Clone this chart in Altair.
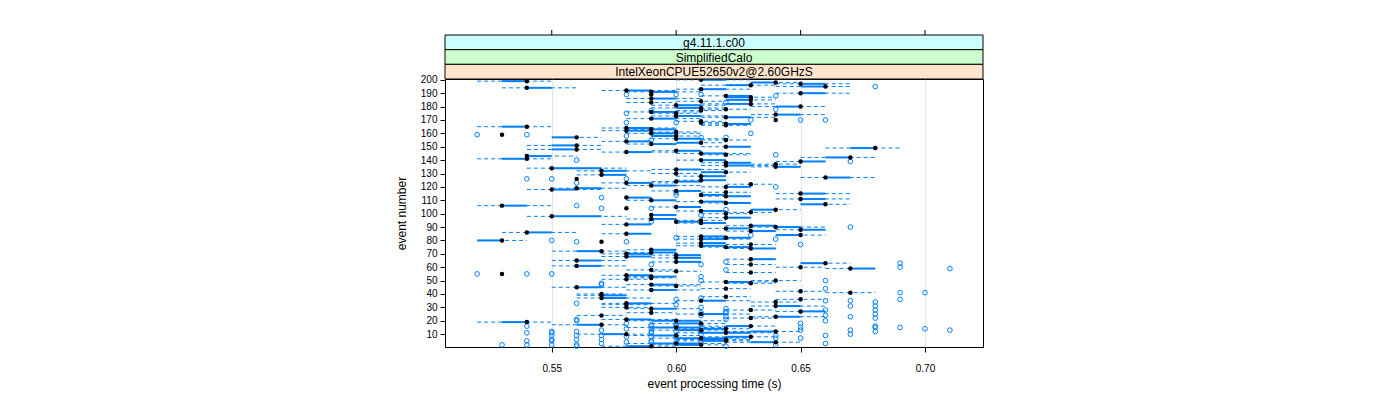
import altair as alt
import pandas as pd

# ---------------- data ----------------
events = list(range(1, 201))

lo = [
    .57, .59, .58, .62, .60, .60, .59, .61, .58, .56,
    .60, .62, .59, .60, .58, .61, .55, .59, .52, .58,
    .57, .62, .63, .56, .60, .58, .64, .62, .58, .57,
    .63, .57, .57, .63, .60, .64, .56, .61, .56, .56,
    .66, .64, .58, .61, .55, .59, .58, .62, .61, .63,
    .57, .58, .58, .57, .53, .62, .59, .58, .66, .64,
    .55, .62, .65, .59, .55, .62, .59, .57, .59, .57,
    .58, .55, .58, .62, .61, .60, .62, .60, .57, .52,
    .60, .61, .60, .64, .57, .53, .62, .64, .61, .63,
    .62, .57, .60, .60, .60, .58, .61, .54, .59, .61,
    .62, .60, .63, .58, .59, .52, .65, .61, .60, .58,
    .64, .58, .61, .61, .64, .61, .59, .54, .55, .61,
    .58, .62, .57, .59, .60, .56, .65, .60, .56, .59,
    .61, .56, .59, .54, .63, .61, .63, .61, .64, .60,
    .52, .65, .54, .61, .60, .57, .59, .54, .66, .61,
    .54, .58, .60, .57, .61, .59, .55, .59, .53, .58,
    .59, .57, .58, .57, .52, .61, .61, .61, .60, .64,
    .58, .61, .59, .63, .59, .58, .60, .61, .59, .63,
    .59, .61, .58, .60, .62, .58, .62, .61, .59, .64,
    .58, .57, .60, .53, .64, .61, .64, .63, .52, .60,
]

q1 = [
    .58, .60, .59, .63, .61, .61, .60, .62, .59, .57,
    .61, .63, .60, .61, .59, .62, .56, .60, .53, .59,
    .58, .63, .64, .57, .61, .59, .65, .63, .59, .58,
    .64, .58, .58, .64, .61, .65, .57, .62, .57, .57,
    .67, .65, .59, .62, .56, .60, .59, .63, .62, .64,
    .58, .59, .59, .58, .53, .63, .60, .59, .67, .65,
    .56, .63, .65, .60, .56, .63, .60, .58, .60, .58,
    .59, .56, .59, .63, .62, .61, .63, .61, .57, .52,
    .61, .62, .61, .64, .58, .54, .63, .65, .62, .64,
    .63, .58, .61, .60, .61, .59, .62, .55, .59, .62,
    .63, .61, .63, .58, .60, .53, .65, .62, .61, .59,
    .65, .58, .62, .61, .65, .62, .60, .55, .56, .62,
    .59, .63, .58, .60, .61, .56, .66, .61, .57, .60,
    .61, .57, .60, .55, .64, .62, .64, .62, .65, .61,
    .53, .66, .54, .62, .61, .58, .60, .55, .67, .62,
    .55, .59, .60, .58, .62, .60, .55, .59, .53, .59,
    .60, .58, .59, .58, .53, .62, .62, .61, .61, .64,
    .59, .62, .60, .64, .60, .59, .61, .62, .60, .64,
    .60, .62, .59, .61, .62, .59, .62, .62, .59, .65,
    .59, .58, .61, .54, .65, .62, .65, .63, .53, .61,
]

med = [
    .59, .61, .60, .64, .62, .62, .61, .63, .60, .58,
    .62, .64, .61, .62, .60, .63, .57, .61, .54, .60,
    .58, .63, .64, .57, .61, .59, .65, .63, .59, .58,
    .64, .58, .58, .64, .61, .65, .57, .62, .57, .57,
    .67, .65, .59, .62, .56, .60, .59, .63, .62, .64,
    .58, .59, .59, .58, .53, .63, .60, .59, .67, .65,
    .56, .63, .66, .60, .56, .63, .60, .58, .60, .58,
    .59, .57, .59, .63, .62, .61, .63, .61, .57, .53,
    .61, .62, .61, .65, .58, .54, .63, .65, .62, .64,
    .63, .58, .61, .60, .61, .59, .62, .55, .59, .62,
    .63, .61, .64, .58, .60, .53, .66, .62, .61, .59,
    .65, .58, .62, .61, .65, .62, .60, .55, .56, .62,
    .59, .63, .58, .60, .61, .56, .66, .61, .57, .60,
    .62, .57, .60, .55, .64, .62, .64, .62, .65, .61,
    .54, .67, .54, .62, .61, .58, .60, .56, .68, .62,
    .56, .59, .61, .58, .62, .60, .56, .60, .53, .59,
    .60, .58, .59, .58, .54, .62, .62, .61, .61, .64,
    .59, .62, .60, .64, .60, .59, .61, .62, .61, .65,
    .60, .63, .59, .61, .63, .59, .63, .62, .59, .65,
    .59, .58, .61, .54, .66, .63, .65, .64, .54, .61,
]

q3 = [
    .59, .61, .61, .64, .62, .62, .62, .63, .60, .58,
    .63, .64, .61, .62, .61, .63, .57, .61, .54, .61,
    .59, .63, .65, .57, .62, .59, .66, .63, .60, .58,
    .65, .58, .59, .64, .62, .65, .58, .62, .58, .57,
    .67, .65, .60, .62, .57, .60, .60, .63, .63, .64,
    .58, .59, .60, .59, .53, .63, .60, .59, .68, .65,
    .57, .63, .66, .61, .57, .64, .61, .59, .61, .59,
    .60, .57, .60, .64, .63, .62, .63, .62, .57, .53,
    .62, .63, .62, .65, .59, .55, .64, .66, .63, .65,
    .64, .59, .62, .61, .61, .60, .63, .57, .60, .62,
    .63, .62, .64, .58, .61, .54, .66, .63, .62, .60,
    .66, .59, .63, .62, .66, .62, .61, .56, .57, .63,
    .60, .63, .59, .61, .62, .56, .67, .62, .58, .60,
    .62, .58, .61, .57, .65, .63, .64, .63, .66, .62,
    .54, .67, .55, .62, .62, .59, .61, .56, .68, .63,
    .56, .60, .61, .59, .62, .61, .56, .60, .53, .60,
    .60, .59, .60, .59, .54, .62, .63, .61, .61, .64,
    .60, .63, .61, .65, .60, .60, .61, .62, .61, .65,
    .61, .63, .59, .61, .63, .60, .63, .63, .59, .66,
    .60, .59, .62, .55, .66, .63, .66, .64, .54, .62,
]

hi = [
    .60, .62, .62, .65, .63, .63, .63, .64, .61, .59,
    .64, .65, .62, .63, .62, .64, .58, .62, .55, .62,
    .60, .64, .66, .58, .63, .60, .66, .64, .61, .59,
    .66, .59, .60, .65, .63, .66, .59, .63, .58, .58,
    .68, .66, .61, .63, .58, .61, .61, .64, .64, .65,
    .59, .60, .60, .59, .53, .64, .61, .60, .68, .66,
    .58, .64, .67, .61, .58, .64, .61, .59, .61, .59,
    .60, .58, .60, .64, .63, .62, .64, .62, .57, .54,
    .63, .63, .62, .66, .59, .56, .64, .66, .63, .66,
    .64, .59, .62, .61, .62, .60, .63, .58, .60, .63,
    .64, .62, .65, .58, .61, .55, .67, .63, .62, .60,
    .67, .59, .63, .62, .67, .63, .61, .57, .58, .63,
    .61, .64, .60, .61, .62, .56, .68, .62, .58, .61,
    .63, .59, .62, .58, .65, .64, .65, .63, .66, .62,
    .55, .68, .56, .63, .63, .60, .61, .57, .69, .63,
    .57, .60, .62, .59, .63, .62, .57, .61, .53, .61,
    .61, .59, .60, .60, .55, .63, .63, .62, .62, .64,
    .61, .64, .62, .66, .61, .61, .62, .63, .62, .66,
    .62, .64, .60, .62, .64, .61, .64, .63, .59, .67,
    .61, .60, .63, .56, .67, .64, .67, .65, .55, .63,
]

out_event = [
    195, 189, 189, 189, 188, 183, 178, 177, 175, 170, 170, 170, 168, 168,
    160, 159, 159, 158, 157, 157, 155, 144, 140, 139, 126, 126, 126, 123,
    120, 116, 114, 112, 106, 104, 104, 103, 99, 94, 90, 84, 82, 81, 80,
    79, 79, 77, 64, 63, 62, 62, 60, 59, 58, 55, 55, 55, 53, 50, 50, 48,
    47, 44, 41, 41, 37, 36, 36, 35, 35, 34, 33, 32, 31, 31, 30, 29, 28,
    28, 27, 26, 26, 25, 24, 24, 23, 23, 22, 21, 21, 20, 20, 18, 18, 17,
    17, 17, 16, 16, 16, 16, 15, 15, 15, 14, 14, 14, 13, 13, 13, 13, 12,
    12, 12, 12, 12, 12, 11, 11, 11, 10, 10, 9, 9, 9, 9, 9, 8, 8, 8, 7, 7,
    6, 6, 6, 5, 5, 5, 4, 4, 4, 4, 3, 3, 2, 2, 2, 2, 2, 1, 1,
]
out_time = [
    .68, .58, .60, .61, .64, .62, .64, .59, .58, .63, .65, .66, .58, .60,
    .63, .52, .54, .58, .61, .62, .59, .64, .56, .67, .54, .55, .58, .56,
    .64, .60, .60, .57, .56, .57, .59, .62, .61, .59, .67, .63, .60, .64, .55,
    .56, .58, .65, .62, .69, .59, .61, .69, .71, .62, .52, .54, .55, .61, .61, .66, .57,
    .57, .66, .69, .70, .61, .60, .69, .66, .67, .68, .56, .60, .67, .68, .61, .62, .66,
    .68, .62, .61, .62, .68, .61, .66, .62, .67, .68, .56, .62, .56, .66, .58, .65, .59,
    .60, .61, .54, .59, .60, .68, .65, .68, .69, .58, .59, .70, .57, .65, .67, .71, .55,
    .56, .59, .60, .61, .68, .54, .55, .59, .61, .67, .55, .56, .57, .64, .66, .58, .59, .60, .64, .65,
    .55, .56, .57, .54, .55, .59, .58, .59, .60, .61, .57, .66, .53, .54, .55, .56, .64, .56, .62,
]

x_ticks = [0.55, 0.60, 0.65, 0.70]
y_ticks = list(range(10, 201, 10))
strip_labels = ["g4.11.1.c00", "SimplifiedCalo", "IntelXeonCPUE52650v2@2.60GHzS"]
strip_colors = ["#ccffff", "#ccffcc", "#ffe5cc"]

# ---------------- chart ----------------
W, H = 538, 268
FONT = "Liberation Sans"
BLUE = "#0080ff"

box_df = pd.DataFrame({"event": events, "lo": lo, "q1": q1, "med": med, "q3": q3, "hi": hi})
out_df = pd.DataFrame({"event": out_event, "time": out_time})
tick_df = pd.DataFrame({"tick": x_ticks})

xs = alt.Scale(domain=[0.5071, 0.7233], nice=False, zero=False)
ys = alt.Scale(domain=[0.4, 200.6], nice=False, zero=False)

x_axis = alt.Axis(values=x_ticks, format=".2f", title="event processing time (s)",
                  grid=True, gridColor="#e6e6e6", gridWidth=1, domain=False,
                  tickSize=5, tickColor="black", labelFontSize=10, titleFontSize=12,
                  labelPadding=11, titlePadding=5, labelColor="black", titleColor="black",
                  titleFontWeight="normal", labelFont=FONT, titleFont=FONT)
y_axis = alt.Axis(values=y_ticks, title="event number", grid=False, domain=False,
                  tickSize=5, tickColor="black", labelFontSize=10, titleFontSize=12,
                  labelPadding=3, titlePadding=12, labelColor="black", titleColor="black",
                  titleFontWeight="normal", labelFont=FONT, titleFont=FONT)

y_enc = alt.Y("event:Q", scale=ys, axis=y_axis)

whiskers = alt.Chart(box_df).mark_rule(color=BLUE, strokeWidth=1, strokeDash=[4, 3]).encode(
    x=alt.X("lo:Q", scale=xs, axis=x_axis), x2="hi:Q", y=y_enc)
boxes = alt.Chart(box_df).mark_rule(color=BLUE, strokeWidth=2).encode(
    x=alt.X("q1:Q", scale=xs, axis=x_axis), x2="q3:Q", y=y_enc)
outliers = alt.Chart(out_df).mark_point(shape="circle", filled=False, color=BLUE,
                                        size=22, strokeWidth=1, opacity=1).encode(
    x=alt.X("time:Q", scale=xs, axis=x_axis), y=y_enc)
medians = alt.Chart(box_df).mark_circle(color="black", size=20, opacity=1).encode(
    x=alt.X("med:Q", scale=xs, axis=x_axis), y=y_enc)

top_ticks = alt.Chart(tick_df).mark_rule(color="black", strokeWidth=1).encode(
    x=alt.X("tick:Q", scale=xs, axis=x_axis), y=alt.value(-49), y2=alt.value(-44))

strip_h = 44 / 3
layers = [whiskers, boxes, outliers, medians, top_ticks]
for i, (lab, col) in enumerate(zip(strip_labels, strip_colors)):
    top = -44 + i * strip_h
    sdf = pd.DataFrame({"label": [lab]})
    layers.append(alt.Chart(sdf).mark_rect(fill=col, stroke="black", strokeWidth=1).encode(
        x=alt.value(0), x2=alt.value(W), y=alt.value(top), y2=alt.value(top + strip_h)))
    layers.append(alt.Chart(sdf).mark_text(font=FONT, fontSize=12, color="black",
                                           baseline="middle", align="center").encode(
        text="label:N", x=alt.value(W / 2), y=alt.value(top + strip_h / 2 + 0.5)))

chart = alt.layer(*layers).properties(
    width=W, height=H,
    autosize=alt.AutoSizeParams(type="none"),
    padding={"left": 437, "top": 71, "right": 400, "bottom": 45},
    background="white",
).configure_view(stroke="black", strokeWidth=1)

chart.save("out.html", embed_options={"renderer": "svg", "actions": False})
